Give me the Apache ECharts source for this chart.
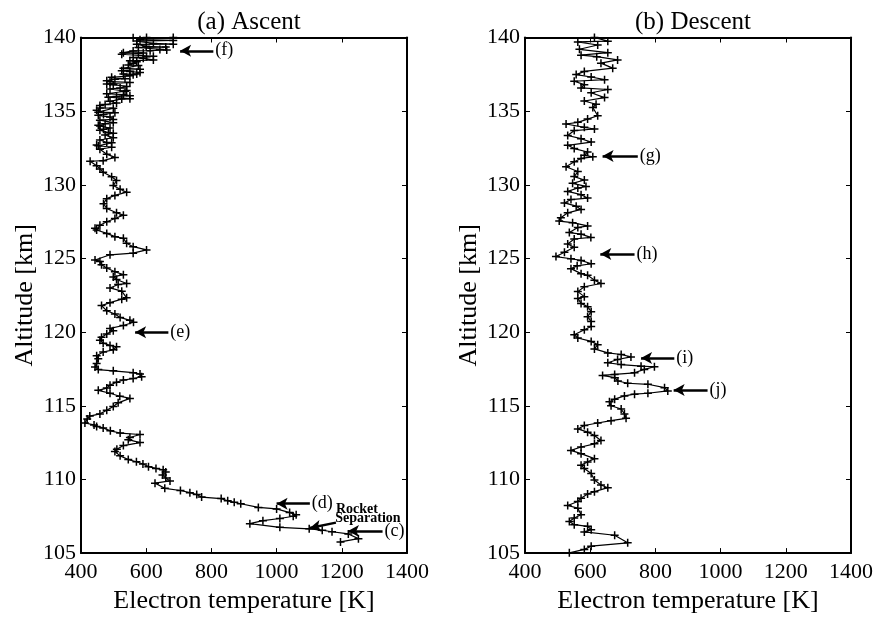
<!DOCTYPE html>
<html><head><meta charset="utf-8">
<script src="https://cdn.jsdelivr.net/npm/echarts@6/dist/echarts.min.js"></script>
<style>html,body{margin:0;padding:0;background:#fff}#c{width:882px;height:619px}</style>
</head><body><div id="c"></div>
<script>
// ---- data ----
const panelTitles = ['(a) Ascent', '(b) Descent'];
const xName = 'Electron temperature [K]';
const yName = 'Altitude [km]';
const xRange = [400, 1400, 200];
const yRange = [105, 140, 5];

const ascentTemp = [1196,1251,1220,1170,1140,1100,1010,918,958,1010,1051,1060,1040,1000,944,890,870,850,830,770,755,734,705,657,627,673,660,650,660,652,630,607,590,570,545,520,504,510,530,581,545,550,581,520,490,468,448,440,412,419,427,458,479,499,514,550,519,489,453,479,489,509,530,560,586,581,560,499,453,443,448,453,448,468,499,509,489,468,458,463,479,499,489,530,561,550,520,504,479,463,489,525,540,525,489,514,540,509,499,530,504,479,463,458,443,489,560,601,560,540,530,504,479,448,443,458,479,504,530,509,479,469,479,504,540,520,499,509,494,468,458,448,428,468,504,479,
  458,494,453,448,494,479,458,499,474,499,484,458,469,489,458,453,474,499,458,499,489,453,469,504,453,448,499,458,458,474,509,489,525,550,484,509,550,530,479,535,540,489,520,540,499,479,550,489,479,504,535,494,550,560,530,571,581,550,525,581,530,576,545,560,571,550,622,591,560,601,622,525,576,591,530,560,612,663,642,576,660,600,571,683,622,571,683,581,560,683,601];
const ascentAlt = [105.76,105.98,106.3,106.45,106.55,106.65,106.75,107.0,107.2,107.35,107.5,107.6,107.75,108.0,108.1,108.35,108.45,108.55,108.7,108.8,108.98,109.1,109.25,109.4,109.75,109.9,110.1,110.3,110.5,110.65,110.75,110.87,111.05,111.2,111.35,111.6,111.9,112.05,112.3,112.5,112.7,112.85,113.05,113.15,113.3,113.5,113.6,113.7,113.83,114.1,114.3,114.45,114.7,114.95,115.2,115.5,115.65,115.85,116.05,116.2,116.4,116.6,116.75,116.85,116.97,117.15,117.25,117.37,117.46,117.64,117.87,118.2,118.4,118.65,118.8,119.0,119.1,119.25,119.45,119.66,119.88,120.1,120.25,120.45,120.67,120.8,121.0,121.23,121.45,121.8,122.0,122.24,122.33,122.78,123.0,123.23,123.3,123.57,123.75,123.9,124.1,124.35,124.57,124.8,124.9,125.25,125.36,125.58,125.8,126.03,126.37,126.48,126.7,126.93,127.05,127.26,127.49,127.71,127.94,128.1,128.39,128.72,129.06,129.28,129.5,129.7,129.95,130.29,130.55,130.85,131.08,131.3,131.6,131.64,131.86,132.08,
  132.42,132.55,132.65,132.7,132.85,132.87,133.04,133.2,133.38,133.5,133.54,133.71,133.77,133.85,133.99,134.05,134.15,134.22,134.39,134.44,134.6,134.72,134.78,134.9,134.93,135.06,135.2,135.22,135.39,135.45,135.55,135.67,135.83,135.85,135.95,136.0,136.05,136.12,136.18,136.35,136.41,136.51,136.57,136.68,136.8,136.85,136.95,137.0,137.07,137.17,137.2,137.3,137.4,137.47,137.52,137.53,137.62,137.7,137.75,137.85,137.91,138.1,138.14,138.25,138.36,138.42,138.48,138.59,138.64,138.7,138.72,138.87,138.92,138.95,138.97,139.09,139.1,139.15,139.19,139.32,139.35,139.4,139.54,139.55,139.6,139.76,139.8,139.85,139.99,140.0,140.0];

const descentTemp = [613,654,562,623,567,654,572,620,684,633,669,582,557,603,644,551,582,572,654,603,644,582,618,608,623,592,562,526,582,613,551,531,572,603,531,551,592,582,608,572,551,526,562,551,582,546,587,562,531,572,592,541,521,557,572,531,510,505,546,592,562,536,572,602,551,531,551,521,495,541,572,603,560,541,572,592,613,633,582,562,582,562,572,592,603,592,603,603,582,551,562,603,623,613,654,695,725,684,654,695,756,797,766,736,675,638,675,685,715,777,828,838,777,736,705,675,659,664,695,705,710,664,623,582,562,592,613,633,613,572,541,572,613,592,572,582,603,613,633,654,613,592,572,562,531,562,572,551,536,551,592,603,582,675,715,603,582,536];
const descentAlt = [140.0,139.75,139.7,139.49,139.2,138.97,138.8,138.7,138.48,138.26,137.92,137.7,137.48,137.32,137.14,137.03,136.8,136.58,136.47,136.25,135.92,135.69,135.47,135.25,134.69,134.46,134.24,134.13,133.9,133.79,133.68,133.35,133.13,132.9,132.68,132.46,132.23,132.0,131.9,131.79,131.56,131.23,130.9,130.56,130.33,130.1,129.89,129.78,129.55,129.33,129.1,129.0,128.77,128.55,128.33,128.1,127.77,127.54,127.43,127.21,127.1,126.76,126.65,126.43,126.32,125.98,125.76,125.42,125.13,124.98,124.87,124.64,124.5,124.31,123.97,123.86,123.53,123.3,123.08,122.75,122.41,122.29,121.95,121.73,121.39,121.05,120.72,120.38,120.16,119.82,119.6,119.37,119.15,118.86,118.59,118.48,118.32,118.14,117.92,117.8,117.69,117.65,117.47,117.24,117.13,117.06,116.91,116.68,116.53,116.46,116.23,116.01,115.85,115.79,115.67,115.45,115.27,115.0,114.78,114.44,114.15,113.99,113.83,113.66,113.43,113.21,112.98,112.65,112.42,112.2,111.97,111.75,111.41,111.19,110.97,110.74,110.4,109.96,109.62,109.44,109.17,109.01,108.72,108.5,108.23,108.05,107.6,107.38,107.15,106.93,106.82,106.59,106.44,106.21,105.7,105.47,105.25,105.02];

// arrows
const arrowPanel = [0,0,0,0,0,1,1,1,1];
const arrowTail  = [[806,139.1],[668,120.0],[1102,108.35],[1182,107.07],[1325,106.5],[746,131.96],[736,125.3],[858,118.25],[960,116.08]];
const arrowHead  = [[704,139.1],[566,120.0],[1000,108.35],[1102,106.7],[1219,106.5],[638,131.96],[631,125.3],[756,118.25],[856,116.08]];
const arrowLabel = ['(f)','(e)','(d)','','(c)','(g)','(h)','(i)','(j)'];
const noteText = ['Rocket','Separation'];
const notePos  = [[1182,108.0],[1180,107.35]];

// ---- chart ----
const serif = '"Liberation Serif","DejaVu Serif",serif';
const plus = 'path://M3.25,0 h1.5 v3.25 h3.25 v1.5 h-3.25 v3.25 h-1.5 v-3.25 h-3.25 v-1.5 h3.25 z';
const grids = [
  {left:81, top:37.5, width:326, height:520.5},
  {left:525, top:37.5, width:326, height:520.5}
];
const xAxes = [], yAxes = [];
grids.forEach((g, i) => {
  const base = {gridIndex:i, type:'value', min:xRange[0], max:xRange[1], interval:xRange[2],
    splitLine:{show:false}, axisLine:{lineStyle:{color:'#000', width:2}},
    axisTick:{inside:true, length:5, lineStyle:{color:'#000', width:1}}};
  xAxes.push(Object.assign({}, base, {position:'bottom', name:xName, nameLocation:'middle', nameGap:33,
    nameTextStyle:{fontFamily:serif, fontSize:26, color:'#000'},
    axisLabel:{fontFamily:serif, fontSize:22, color:'#000', margin:8, formatter: v => String(v)}}));
  xAxes.push(Object.assign({}, base, {position:'top', axisLabel:{show:false}}));
  const ybase = {gridIndex:i, type:'value', min:yRange[0], max:yRange[1], interval:yRange[2],
    splitLine:{show:false}, axisLine:{lineStyle:{color:'#000', width:2}},
    axisTick:{inside:true, length:5, lineStyle:{color:'#000', width:1}}};
  yAxes.push(Object.assign({}, ybase, {position:'left', name:yName, nameLocation:'middle', nameGap:43,
    nameTextStyle:{fontFamily:serif, fontSize:26, color:'#000'},
    axisLabel:{fontFamily:serif, fontSize:22, color:'#000', margin:5, formatter: v => String(v)}}));
  yAxes.push(Object.assign({}, ybase, {position:'right', axisLabel:{show:false}}));
});

function profile(temp, alt, idx) {
  return {type:'line', xAxisIndex:idx*2, yAxisIndex:idx*2, data:temp.map((t,k)=>[t, alt[k]]),
    symbol:plus, symbolSize:8, showSymbol:true, showAllSymbol:true,
    lineStyle:{color:'#000', width:1.2}, itemStyle:{color:'#000', opacity:1}, animation:false, silent:true, z:3};
}
const series = [profile(ascentTemp, ascentAlt, 0), profile(descentTemp, descentAlt, 1)];
[0,1].forEach(p => {
  const ids = arrowPanel.map((v,k)=>k).filter(k => arrowPanel[k] === p);
  const labelData = ids.filter(k => arrowLabel[k]).map(k => ({value:arrowTail[k], label:{formatter:arrowLabel[k]}}));
  if (p === 0) noteText.forEach((t,k) => labelData.push({value:notePos[k],
    label:{formatter:t, fontSize:14, fontWeight:'bold', distance:0}}));
  series.push({type:'scatter', xAxisIndex:p*2, yAxisIndex:p*2, symbolSize:0, data:labelData,
    itemStyle:{opacity:1, color:'#000'},
    label:{show:true, position:'right', distance:2, fontFamily:serif, fontSize:18, color:'#000', opacity:1},
    animation:false, silent:true, z:5,
    markLine:{silent:true, animation:false, symbol:['none','arrow'], symbolSize:[9,11],
      lineStyle:{color:'#000', width:2.5, type:'solid', opacity:1}, label:{show:false},
      data: ids.map(k => [{coord:arrowTail[k]}, {coord:arrowHead[k]}])}});
});

const chart = echarts.init(document.getElementById('c'), null, {renderer:'canvas'});
chart.setOption({
  backgroundColor:'#fff', animation:false,
  title: panelTitles.map((t,i) => ({text:t, left:grids[i].left + grids[i].width/2, top:5, textAlign:'center',
    textStyle:{fontFamily:serif, fontSize:25, fontWeight:'normal', color:'#000'}})),
  grid: grids, xAxis: xAxes, yAxis: yAxes, series: series
});
</script>
</body></html>
